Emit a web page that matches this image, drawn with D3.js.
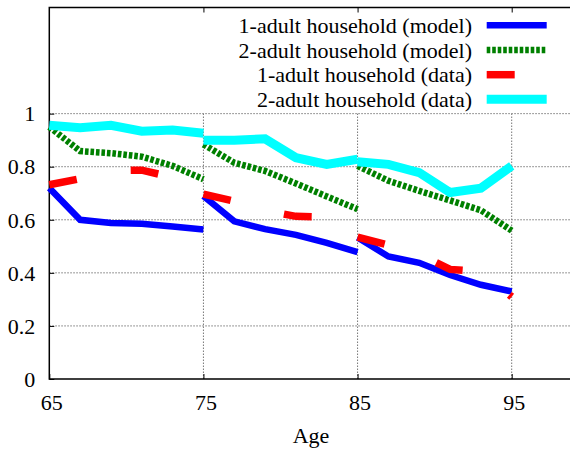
<!DOCTYPE html>
<html>
<head>
<meta charset="utf-8">
<script src="https://cdn.jsdelivr.net/npm/d3@7"></script>
<style>
  body { margin: 0; background: #fff; }
  svg { display: block; }
  text { font-family: "Liberation Serif", "Times New Roman", serif; font-size: 22px; fill: #000; }
</style>
</head>
<body>
<div id="chart"></div>
<script>
// ages for the three cohorts (each line restarts at 75 and 85)
var ageSegs = [
  [65, 67, 69, 71, 73, 75],
  [75, 77, 79, 81, 83, 85],
  [85, 87, 89, 91, 93, 95]
];

// one array per cohort segment, per series
var oneAdultModel = [
  [0.72, 0.600, 0.588, 0.585, 0.575, 0.563],
  [0.69, 0.594, 0.565, 0.543, 0.513, 0.478],
  [0.533, 0.462, 0.438, 0.392, 0.355, 0.33]
];
var twoAdultModel = [
  [0.95, 0.859, 0.851, 0.838, 0.803, 0.753],
  [0.884, 0.815, 0.784, 0.737, 0.688, 0.64],
  [0.803, 0.747, 0.709, 0.673, 0.636, 0.559]
];
var oneAdultData = [
  [0.732, 0.755, 0.785, 0.787, 0.76, 0.74],
  [0.697, 0.67, 0.635, 0.613, 0.61, 0.59],
  [0.535, 0.505, 0.47, 0.413, 0.405, 0.31]
];
var twoAdultData = [
  [0.956, 0.947, 0.956, 0.934, 0.938, 0.926],
  [0.90, 0.90, 0.905, 0.834, 0.809, 0.828],
  [0.819, 0.809, 0.778, 0.703, 0.719, 0.803]
];

var xTicks = [65, 75, 85, 95];
var yTicks = [0, 0.2, 0.4, 0.6, 0.8, 1];

var series = [
  {name: '1-adult household (model)', values: oneAdultModel, color: '#0000ff', width: 6.5, dash: null},
  {name: '2-adult household (model)', values: twoAdultModel, color: '#008000', width: 6.5, dash: '3.6,1.9'},
  {name: '1-adult household (data)', values: oneAdultData, color: '#ff0000', width: 7.5, dash: '28,55'},
  {name: '2-adult household (data)', values: twoAdultData, color: '#00ffff', width: 9, dash: null}
];

var width = 570,
    height = 450,
    plotLeft = 49.3,
    plotBottom = 379,
    plotTop = 7.5;

var x = d3.scaleLinear().domain([65, 95]).range([plotLeft, 511.7]);
var y = d3.scaleLinear().domain([0, 1.4]).range([plotBottom, plotTop]);

var svg = d3.select('#chart')
  .append('svg')
  .attr('width', width)
  .attr('height', height);

// grid
svg.selectAll('line.hgrid').data(yTicks.slice(1))
  .enter().append('line')
  .attr('class', 'hgrid')
  .attr('x1', plotLeft).attr('x2', width)
  .attr('y1', function (d) { return y(d); })
  .attr('y2', function (d) { return y(d); })
  .attr('stroke', '#777').attr('stroke-width', 1)
  .attr('stroke-dasharray', '1.5,1.5');

svg.selectAll('line.vgrid').data(xTicks.slice(1))
  .enter().append('line')
  .attr('class', 'vgrid')
  .attr('x1', function (d) { return x(d); })
  .attr('x2', function (d) { return x(d); })
  .attr('y1', y(0)).attr('y2', y(1))
  .attr('stroke', '#777').attr('stroke-width', 1)
  .attr('stroke-dasharray', '1.5,1.5');

// border (no right edge)
svg.append('path')
  .attr('d', 'M' + width + ',' + plotTop + 'H' + plotLeft + 'V' + plotBottom + 'H' + width)
  .attr('fill', 'none').attr('stroke', '#000').attr('stroke-width', 1.5);

// axes
var xAxis = svg.append('g')
  .attr('transform', 'translate(0,' + plotBottom + ')')
  .call(d3.axisBottom(x).tickValues(xTicks).tickSize(-5).tickFormat(d3.format('d')));
xAxis.select('.domain').remove();
xAxis.selectAll('line').attr('stroke', '#000');
xAxis.selectAll('text')
  .attr('y', 15).attr('dx', 2)
  .style('font-size', '22px')
  .style('font-family', '"Liberation Serif", serif');

var xTop = svg.append('g')
  .attr('transform', 'translate(0,' + plotTop + ')')
  .call(d3.axisTop(x).tickValues(xTicks.slice(1)).tickSize(-5).tickFormat(''));
xTop.select('.domain').remove();
xTop.selectAll('line').attr('stroke', '#000');

var yAxis = svg.append('g')
  .attr('transform', 'translate(' + plotLeft + ',0)')
  .call(d3.axisLeft(y).tickValues(yTicks).tickSize(-5).tickFormat(function (d) { return d; }));
yAxis.select('.domain').remove();
yAxis.selectAll('line').attr('stroke', '#000');
yAxis.selectAll('text')
  .attr('x', -14).attr('dy', '0.33em')
  .style('font-size', '22px')
  .style('font-family', '"Liberation Serif", serif');

svg.append('text')
  .attr('x', 311).attr('y', 443)
  .attr('text-anchor', 'middle')
  .text('Age');

// lines
var line = d3.line()
  .x(function (d) { return x(d[0]); })
  .y(function (d) { return y(d[1]); });

series.forEach(function (s) {
  s.values.forEach(function (vals, k) {
    var pts = ageSegs[k].map(function (a, i) { return [a, vals[i]]; });
    svg.append('path')
      .datum(pts)
      .attr('d', line)
      .attr('fill', 'none')
      .attr('stroke', s.color)
      .attr('stroke-width', s.width)
      .attr('stroke-dasharray', s.dash);
  });
});

// legend
var legendY = [25.3, 50, 74.7, 99.3];
var legend = svg.selectAll('g.legend').data(series)
  .enter().append('g')
  .attr('class', 'legend')
  .attr('transform', function (d, i) { return 'translate(0,' + legendY[i] + ')'; });

legend.append('text')
  .attr('x', 472).attr('dy', '0.35em')
  .attr('text-anchor', 'end')
  .text(function (d) { return d.name; });

legend.append('line')
  .attr('x1', 486.7).attr('x2', 546.7)
  .attr('stroke', function (d) { return d.color; })
  .attr('stroke-width', function (d) { return d.width; })
  .attr('stroke-dasharray', function (d) { return d.dash; });
</script>
</body>
</html>
